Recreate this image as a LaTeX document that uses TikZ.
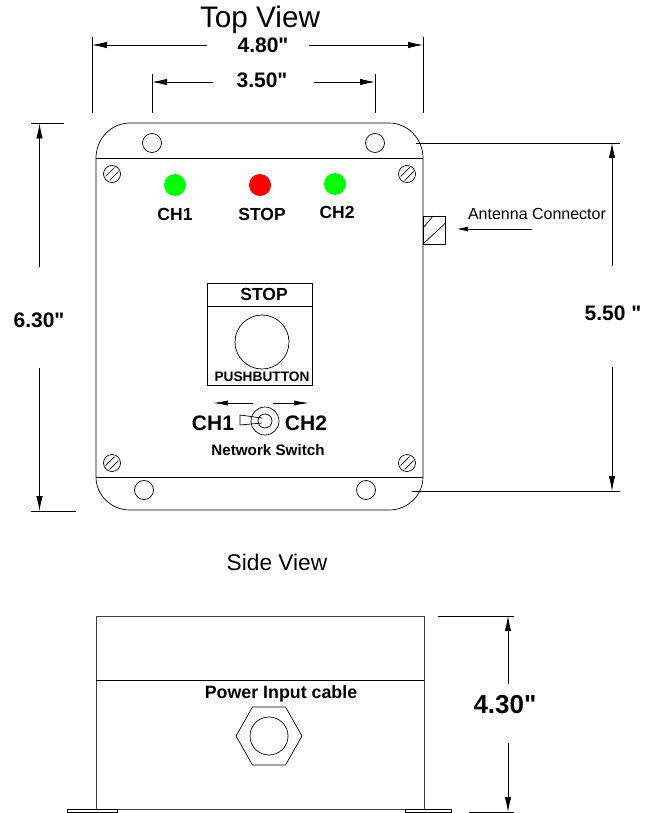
\documentclass[tikz,border=0pt]{standalone}
\usepackage{fontspec}
\usetikzlibrary{arrows.meta}
\setmainfont{Liberation Sans}
\newfontfamily\quotefont{Liberation Sans}
\definecolor{ledgreen}{RGB}{0,255,0}
\newcommand{\inchmark}{{\quotefont\bfseries"}}
\newcommand{\screw}[2]{%
    \draw (#1, #2) circle (8.5);
    \draw (#1-6.5, #2+2.5) -- (#1+2.5, #2-6.5);
    \draw (#1-2.5, #2+6.5) -- (#1+6.5, #2-2.5);
}
\tikzset{
    dimline/.style = {line width=0.8pt},
    graylabel/.style = {inner sep=0pt},
    dimlabel/.style = {font=\fontsize{21}{21}\bfseries\selectfont, inner sep=0pt},
    ledlabel/.style = {font=\fontsize{17.5}{17.5}\bfseries\selectfont, inner sep=0pt}
}
\begin{document}
\begin{tikzpicture}[> = {Latex[length=15, width=6.5]}, x=1pt, y=-1pt, line width=0.7pt]
    \useasboundingbox (0, 0) rectangle (654, 813);
    % Titles
    \node [graylabel, font=\fontsize{29.7}{29.7}\selectfont] (topview) at (260, 20) {Top View};
    \node [graylabel, font=\fontsize{22.7}{22.7}\selectfont] (sideview) at (277, 562) {Side View};
    % Body
    \draw (96, 158) arc [start angle=180, end angle=90, x radius=34, y radius=-35]
        -- (389, 123) arc [start angle=90, end angle=0, x radius=34, y radius=-35]
        -- (423, 477) arc [start angle=0, end angle=-90, x radius=34, y radius=-33]
        -- (130, 510) arc [start angle=-90, end angle=-180, x radius=34, y radius=-33]
        -- cycle;
    \draw (96, 158) -- (423, 158);
    \draw (96, 477) -- (423, 477);
    % Holes
    \foreach \x/\y in {152/143, 375/143, 144/490, 366/490}{
        \draw (\x, \y) circle (9.5);
    }
    \screw{112}{174}
    \screw{407}{174}
    \screw{112}{463}
    \screw{407}{463}
    % LEDs
    \fill [ledgreen] (175, 185) circle (11);
    \fill [red] (260, 185) circle (11);
    \fill [ledgreen] (335, 184) circle (11);
    \node [ledlabel] (chone) at (175, 214) {CH1};
    \node [ledlabel] (stopled) at (262, 214) {STOP};
    \node [ledlabel] (chtwo) at (337, 212) {CH2};
    % Pushbutton
    \draw (207, 283) rectangle (312, 385);
    \draw (207, 306) -- (312, 306);
    \draw (262, 342) circle (27);
    \node [ledlabel] (stopbutton) at (264, 294) {STOP};
    \node [ledlabel, font=\fontsize{13.7}{13.7}\bfseries\selectfont] (pushbutton) at (262, 377) {PUSHBUTTON};
    % Switch
    \draw (265, 421) circle (14);
    \draw (265, 421) circle (7);
    \draw (262, 418) -- (240, 415) -- (240, 425) -- (262, 423);
    \coordinate (swleft) at (253, 403);
    \coordinate (swleftend) at (213, 403);
    \coordinate (swright) at (273, 403);
    \coordinate (swrightend) at (309, 403);
    \draw [-{Latex[length=15, width=5]}] (swleft) -- (swleftend);
    \draw [-{Latex[length=15, width=5]}] (swright) -- (swrightend);
    \node [dimlabel] (swone) at (213, 423) {CH1};
    \node [dimlabel] (swtwo) at (306, 423) {CH2};
    \node [ledlabel, font=\fontsize{15.2}{15.2}\bfseries\selectfont] (network) at (268, 450) {Network Switch};
    % Antenna
    \draw (423, 216) rectangle (445.5, 244);
    \draw (423, 244) -- (445.5, 223);
    \draw (423, 228) -- (433, 216);
    \node [graylabel, font=\fontsize{16}{16}\selectfont] (antenna) at (537, 214) {Antenna Connector};
    \coordinate (antfrom) at (532, 229);
    \coordinate (antto) at (457, 229);
    \draw [-{Latex[length=11, width=5]}] (antfrom) -- (antto);
    % 4.80
    \node [dimlabel] (width) at (263, 45) {4.80\inchmark};
    \coordinate (wl) at (92, 45);
    \coordinate (wr) at (423, 45);
    \coordinate (wlin) at (207, 45);
    \coordinate (wrin) at (309, 45);
    \draw [dimline] (92, 37) -- (92, 113);
    \draw [dimline] (423, 37) -- (423, 113);
    \draw [dimline, ->] (wlin) -- (wl);
    \draw [dimline, ->] (wrin) -- (wr);
    % 3.50
    \node [dimlabel] (holes) at (262, 80) {3.50\inchmark};
    \coordinate (hl) at (152, 82);
    \coordinate (hr) at (375, 82);
    \coordinate (hlin) at (213, 82);
    \coordinate (hrin) at (314, 82);
    \draw [dimline] (152, 74) -- (152, 113);
    \draw [dimline] (375, 74) -- (375, 113);
    \draw [dimline, ->] (hlin) -- (hl);
    \draw [dimline, ->] (hrin) -- (hr);
    % 6.30
    \node [dimlabel] (height) at (39, 320) {6.30\inchmark};
    \coordinate (ht) at (39.5, 123.5);
    \coordinate (hb) at (39.5, 511);
    \coordinate (htin) at (39.5, 267);
    \coordinate (hbin) at (39.5, 368);
    \draw [dimline] (31, 123.5) -- (64, 123.5);
    \draw [dimline] (31, 511) -- (76, 511);
    \draw [dimline, ->] (htin) -- (ht);
    \draw [dimline, ->] (hbin) -- (hb);
    % 5.50
    \node [dimlabel] (mount) at (613, 313) {5.50 \inchmark};
    \coordinate (mt) at (612, 143);
    \coordinate (mb) at (612, 491);
    \coordinate (mtin) at (612, 266);
    \coordinate (mbin) at (612, 367);
    \draw [dimline] (416, 143) -- (620, 143);
    \draw [dimline] (412, 491) -- (620, 491);
    \draw [dimline, ->] (mtin) -- (mt);
    \draw [dimline, ->] (mbin) -- (mb);
    % Side
    \draw [line width=0.9pt, black!75] (96, 809) -- (96, 616) -- (424, 616) -- (424, 809);
    \draw [line width=0.9pt, black!75] (96, 809) -- (424, 809);
    \draw (96, 680) -- (424, 680);
    \draw (67, 809.5) rectangle (117, 812);
    \draw (405, 809.5) rectangle (451, 812);
    \draw (236, 736) -- (252.5, 707) -- (285.5, 707) -- (302, 736) -- (285.5, 765) -- (252.5, 765) -- cycle;
    \draw (269, 736) circle (19);
    \node [ledlabel, font=\fontsize{17.8}{17.8}\bfseries\selectfont] (power) at (281, 694) {Power Input cable};
    % 4.30
    \node [dimlabel, font=\fontsize{26}{26}\bfseries\selectfont] (depth) at (505, 705) {4.30\inchmark};
    \coordinate (dt) at (508, 616);
    \coordinate (db) at (508, 812);
    \coordinate (dtin) at (508, 684);
    \coordinate (dbin) at (508, 743);
    \draw [dimline] (438, 616) -- (514, 616);
    \draw [dimline] (469, 812) -- (514, 812);
    \draw [dimline, ->] (dtin) -- (dt);
    \draw [dimline, ->] (dbin) -- (db);
\end{tikzpicture}
\end{document}
